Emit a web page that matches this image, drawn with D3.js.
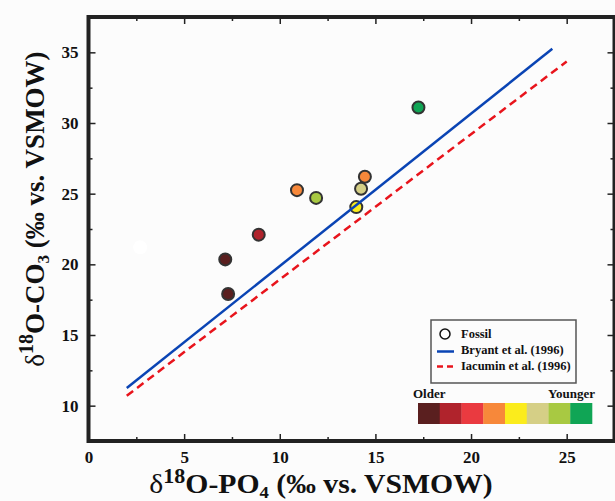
<!DOCTYPE html>
<html>
<head>
<meta charset="utf-8">
<script src="https://cdn.jsdelivr.net/npm/d3@7"></script>
<style>
  body { margin: 0; background: #fcfcfc; }
  svg { display: block; }
</style>
</head>
<body>
<svg id="chart" width="615" height="501"></svg>
<script>
// samples, ordered by age class (0 = oldest .. 7 = youngest)
var sampleX = [7.15, 7.3, 8.9, 10.9, 11.9, 14.45, 14.25, 14.0, 17.25];
var sampleY = [20.35, 17.9, 22.1, 25.25, 24.7, 26.2, 25.35, 24.05, 31.1];
var sampleAge = [0, 0, 1, 3, 6, 3, 5, 4, 7];

var fossilX = [2.7];
var fossilY = [21.2];

var ageColors = ["#5a1f1f", "#b0232c", "#ea3a40", "#f7883a", "#fbec1c", "#d5cf86", "#a8c942", "#10a555"];

// calibration lines
var bryantX = [2.0, 24.25];
var bryantY = [11.25, 35.25];
var iacuminX = [2.0, 25.0];
var iacuminY = [10.7, 34.35];

var xMajor = [0, 5, 10, 15, 20, 25];
var xMinor = [2.5, 7.5, 12.5, 17.5, 22.5];
var yMajor = [10, 15, 20, 25, 30, 35];
var yMinor = [12.5, 17.5, 22.5, 27.5, 32.5];

var FONT = "'Liberation Serif', 'Times New Roman', Tinos, 'DejaVu Serif', serif";

var svg = d3.select("#chart");

var x = d3.scaleLinear().domain([0, 27.5]).range([88.5, 614.5]);
var y = d3.scaleLinear().domain([7.5, 37.5]).range([441, 17]);

function zip(xs, ys){
  return xs.map(function (v, i) { return [v, ys[i]]; });
}

function label(sel, size){
  return sel.attr("font-family", null)
    .style("font-family", FONT)
    .style("font-weight", "bold")
    .style("font-size", size + "px")
    .style("fill", "#111");
}

// axes (ticks inward on all four sides)
function addAxis(axis, tx, ty, labels){
  var g = svg.append("g").attr("transform", "translate(" + tx + "," + ty + ")").call(axis);
  g.attr("font-family", null).attr("font-size", null);
  g.select(".domain").remove();
  g.selectAll(".tick line").attr("stroke", "#222").attr("stroke-width", 1.5);
  if (labels) label(g.selectAll("text"), 17);
  else g.selectAll("text").remove();
  return g;
}

addAxis(d3.axisBottom(x).tickValues(xMajor).tickSize(-7).tickPadding(10).tickFormat(d3.format("d")), 0, 441, true);
addAxis(d3.axisBottom(x).tickValues(xMinor).tickSize(-4), 0, 441, false);
addAxis(d3.axisTop(x).tickValues(xMajor).tickSize(-7), 0, 17, false);
addAxis(d3.axisTop(x).tickValues(xMinor).tickSize(-4), 0, 17, false);
addAxis(d3.axisLeft(y).tickValues(yMajor).tickSize(-7).tickPadding(10).tickFormat(d3.format("d")), 88.5, 0, true);
addAxis(d3.axisLeft(y).tickValues(yMinor).tickSize(-4), 88.5, 0, false);
addAxis(d3.axisRight(y).tickValues(yMajor).tickSize(-7), 614.5, 0, false);
addAxis(d3.axisRight(y).tickValues(yMinor).tickSize(-4), 614.5, 0, false);

// fossil (white, no outline)
svg.append("g").selectAll("circle")
  .data(zip(fossilX, fossilY))
  .join("circle")
  .attr("cx", function (d) { return x(d[0]); })
  .attr("cy", function (d) { return y(d[1]); })
  .attr("r", 7)
  .attr("fill", "#ffffff");

// samples
svg.append("g").selectAll("circle")
  .data(sampleX.map(function (v, i) { return {x: v, y: sampleY[i], age: sampleAge[i]}; }))
  .join("circle")
  .attr("cx", function (d) { return x(d.x); })
  .attr("cy", function (d) { return y(d.y); })
  .attr("r", 6)
  .attr("fill", function (d) { return ageColors[d.age]; })
  .attr("stroke", "#333")
  .attr("stroke-width", 2);

var line = d3.line().x(function (d) { return x(d[0]); }).y(function (d) { return y(d[1]); });

svg.append("path")
  .datum(zip(bryantX, bryantY))
  .attr("d", line)
  .attr("fill", "none")
  .attr("stroke", "#0a44b4")
  .attr("stroke-width", 2.5);

svg.append("path")
  .datum(zip(iacuminX, iacuminY))
  .attr("d", line)
  .attr("fill", "none")
  .attr("stroke", "#e8141c")
  .attr("stroke-width", 2.5)
  .attr("stroke-dasharray", "8,5");

// frame
svg.append("rect")
  .attr("x", x(0)).attr("y", y(37.5))
  .attr("width", x(27.5) - x(0)).attr("height", y(7.5) - y(37.5))
  .attr("fill", "none").attr("stroke", "#222").attr("stroke-width", 4);

// legend
var lg = svg.append("g");
lg.append("rect").attr("x", 431).attr("y", 320).attr("width", 145).attr("height", 63)
  .attr("fill", "#fcfcfc").attr("stroke", "#555").attr("stroke-width", 1.5);
lg.append("circle").attr("cx", 445).attr("cy", 334).attr("r", 5)
  .attr("fill", "#fff").attr("stroke", "#111").attr("stroke-width", 1.5);
lg.append("line").attr("x1", 437).attr("x2", 454).attr("y1", 351.5).attr("y2", 351.5)
  .attr("stroke", "#0a44b4").attr("stroke-width", 2.5);
lg.append("line").attr("x1", 437).attr("x2", 454).attr("y1", 366.5).attr("y2", 366.5)
  .attr("stroke", "#e8141c").attr("stroke-width", 2.5).attr("stroke-dasharray", "6,4");
var legendLabels = ["Fossil", "Bryant et al. (1996)", "Iacumin et al. (1996)"];
label(lg.selectAll("text.lab").data(legendLabels).join("text"), 12.5)
  .attr("class", "lab")
  .attr("x", 461)
  .attr("y", function (d, i) { return 338 + i * 16; })
  .text(function (d) { return d; });

// age colour bar
var bar = d3.scaleBand().domain(d3.range(ageColors.length)).range([418, 592]);
svg.append("g").selectAll("rect")
  .data(ageColors)
  .join("rect")
  .attr("x", function (d, i) { return bar(i); })
  .attr("y", 403)
  .attr("width", bar.bandwidth() + 0.3)
  .attr("height", 21)
  .attr("fill", function (d) { return d; });
label(svg.append("text"), 13).attr("x", 413).attr("y", 398).text("Older");
label(svg.append("text"), 13).attr("x", 595).attr("y", 398).attr("text-anchor", "end").text("Younger");

// axis titles
var xt = label(svg.append("text"), 27).attr("transform", "translate(321,493) scale(1.1,1)").attr("text-anchor", "middle");
xt.append("tspan").style("font-weight", "normal").text("δ");
xt.append("tspan").attr("dy", -10).style("font-size", "20px").text("18");
xt.append("tspan").attr("dy", 10).text("O-PO");
xt.append("tspan").attr("dy", 5).style("font-size", "17px").text("4");
xt.append("tspan").attr("dy", -5).text(" (‰ vs. VSMOW)");

var yt = label(svg.append("text"), 27).attr("transform", "translate(44,209) rotate(-90)").attr("text-anchor", "middle");
yt.append("tspan").style("font-weight", "normal").text("δ");
yt.append("tspan").attr("dy", -11).style("font-size", "20px").text("18");
yt.append("tspan").attr("dy", 11).text("O-CO");
yt.append("tspan").attr("dy", 5).style("font-size", "17px").text("3");
yt.append("tspan").attr("dy", -5).text(" (‰ vs. VSMOW)");
</script>
</body>
</html>
